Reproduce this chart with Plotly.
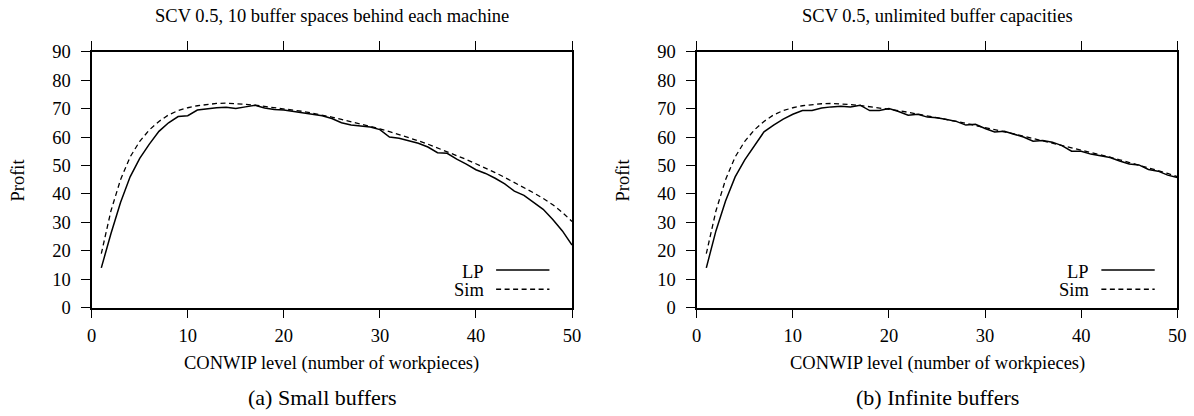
import plotly.graph_objects as go

# ---------------- data ----------------
conwip = list(range(1, 51))

lp_small = [14, 26, 37, 46, 52.5, 57.5, 62, 65, 67.2, 67.5,
            69.5, 70, 70.3, 70.5, 70, 70.6, 71.2, 70.2, 69.7, 69.5,
            69, 68.3, 67.8, 67.5, 66.5, 65, 64.2, 63.8, 63.5, 62.6,
            60, 59.6, 58.8, 57.8, 56.5, 54.5, 54.3, 52.2, 50.5, 48.5,
            47.2, 45.5, 43.5, 41, 39.5, 37, 34.6, 31, 27, 22]

sim_small = [19, 34, 45, 53, 58.5, 62.5, 65.5, 67.8, 69.3, 70.3,
             71, 71.5, 71.8, 71.9, 71.8, 71.5, 71.2, 70.8, 70.4, 70,
             69.5, 69, 68.4, 67.8, 67, 66.2, 65.4, 64.6, 63.8, 62.9,
             61.9, 60.9, 59.8, 58.7, 57.5, 56.2, 54.9, 53.5, 52.1, 50.6,
             49.1, 47.5, 45.8, 44.1, 42.3, 40.4, 38.4, 36.2, 33.5, 30.3]

lp_inf = [14, 27, 37.5, 46, 52, 57, 61.8, 64.2, 66.3, 68,
          69.3, 69.3, 70.2, 70.6, 70.8, 70.6, 71.2, 69.3, 69.3, 70,
          69, 67.7, 68, 67, 66.8, 66.2, 65.5, 64.2, 64.5, 63,
          61.8, 62, 61, 60, 58.5, 58.8, 58.2, 57, 55, 55,
          54, 53.5, 52.8, 51.6, 50.5, 50.2, 48.6, 48, 46.6, 45.8]

sim_inf = [19, 34, 45, 53, 58.5, 62.5, 65.5, 67.8, 69.3, 70.3,
           71, 71.4, 71.7, 71.8, 71.7, 71.4, 71.1, 70.7, 70.3, 69.8,
           69.3, 68.7, 68.1, 67.5, 66.9, 66.2, 65.5, 64.8, 64.1, 63.4,
           62.6, 61.9, 61.1, 60.3, 59.5, 58.7, 57.9, 57.1, 56.3, 55.5,
           54.6, 53.8, 52.9, 52, 51.1, 50.2, 49.2, 48.2, 47.2, 46.1]

x_ticks = [0, 10, 20, 30, 40, 50]
y_ticks = [0, 10, 20, 30, 40, 50, 60, 70, 80, 90]

titles = ["SCV 0.5, 10 buffer spaces behind each machine",
          "SCV 0.5, unlimited buffer capacities"]
captions = ["(a) Small buffers", "(b) Infinite buffers"]
x_title = "CONWIP level (number of workpieces)"
y_title = "Profit"
series_names = ["LP", "Sim"]

# ---------------- layout helpers ----------------
W, H = 1194, 416
FONT = "Liberation Serif"
FS = 18.5

def fx(px):
    return px / W

def fy(py):
    return 1 - py / H

plot_left = [91.7, 696.7]
plot_right = [572.0, 1177.3]
plot_top, plot_bottom = 51.7, 307.7

fig = go.Figure()

panels = [(lp_small, sim_small), (lp_inf, sim_inf)]
for i, (lp, sim) in enumerate(panels):
    xa = "x" if i == 0 else "x2"
    ya = "y" if i == 0 else "y2"
    fig.add_trace(go.Scatter(x=conwip, y=lp, mode="lines", name=series_names[0],
                             line=dict(color="black", width=1.5),
                             xaxis=xa, yaxis=ya, showlegend=False))
    fig.add_trace(go.Scatter(x=conwip, y=sim, mode="lines", name=series_names[1],
                             line=dict(color="black", width=1.3, dash="5px,3.5px"),
                             xaxis=xa, yaxis=ya, showlegend=False))

axis_common = dict(showgrid=False, zeroline=False, showline=True, linecolor="black",
                   linewidth=1.6, ticks="outside", ticklen=8.5, tickwidth=1.3,
                   tickcolor="black", automargin=False,
                   tickfont=dict(family=FONT, size=FS, color="black"))

layout = dict(width=W, height=H, margin=dict(l=0, r=0, t=0, b=0, pad=0, autoexpand=False),
              paper_bgcolor="white", plot_bgcolor="white", showlegend=False,
              font=dict(family=FONT, size=FS, color="black"))

for i in range(2):
    sfx = "" if i == 0 else "2"
    layout["xaxis" + sfx] = dict(axis_common, domain=[fx(plot_left[i]), fx(plot_right[i])],
                                 range=[0, 50], tickvals=x_ticks, mirror="ticks",
                                 anchor="y" + sfx, ticklabelstandoff=2)
    layout["yaxis" + sfx] = dict(axis_common, domain=[fy(plot_bottom), fy(plot_top)],
                                 range=[0, 90], tickvals=y_ticks, mirror=True,
                                 anchor="x" + sfx, ticklabelstandoff=7)

fig.update_layout(**layout)

ann = []
shapes = []
caption_cx = [322, 937]
for i in range(2):
    sfx = "" if i == 0 else "2"
    cx = (plot_left[i] + plot_right[i]) / 2
    ann.append(dict(text=titles[i], x=fx(cx), y=fy(16), xref="paper", yref="paper",
                    xanchor="center", yanchor="middle", showarrow=False,
                    font=dict(family=FONT, size=FS, color="black")))
    ann.append(dict(text=x_title, x=fx(cx), y=fy(363), xref="paper", yref="paper",
                    xanchor="center", yanchor="middle", showarrow=False,
                    font=dict(family=FONT, size=FS, color="black")))
    ann.append(dict(text=y_title, x=fx(plot_left[i] - 74.2), y=fy(180), xref="paper",
                    yref="paper", xanchor="center", yanchor="middle", showarrow=False,
                    textangle=-90, font=dict(family=FONT, size=FS, color="black")))
    ann.append(dict(text=captions[i], x=fx(caption_cx[i]), y=fy(397), xref="paper",
                    yref="paper", xanchor="center", yanchor="middle", showarrow=False,
                    font=dict(family=FONT, size=22, color="black")))
    # legend
    for j, (name, ty, ly, dash, lw) in enumerate([
            (series_names[0], 0.138, 0.147, "solid", 1.5),
            (series_names[1], 0.070, 0.072, "5px,3.5px", 1.3)]):
        ann.append(dict(text=name, x=0.821, y=ty, xref="x%s domain" % sfx,
                        yref="y%s domain" % sfx, xanchor="right", yanchor="middle",
                        height=16, valign="middle",
                        showarrow=False, font=dict(family=FONT, size=FS, color="black")))
        shapes.append(dict(type="line", xref="x%s domain" % sfx, yref="y%s domain" % sfx,
                           x0=0.842, x1=0.953, y0=ly, y1=ly,
                           line=dict(color="black", width=lw, dash=dash)))

fig.update_layout(annotations=ann, shapes=shapes)

fig.write_html("out.html", config={"displayModeBar": False},
               post_script="document.body.style.margin='0';"
                           "document.body.style.overflow='hidden';")
